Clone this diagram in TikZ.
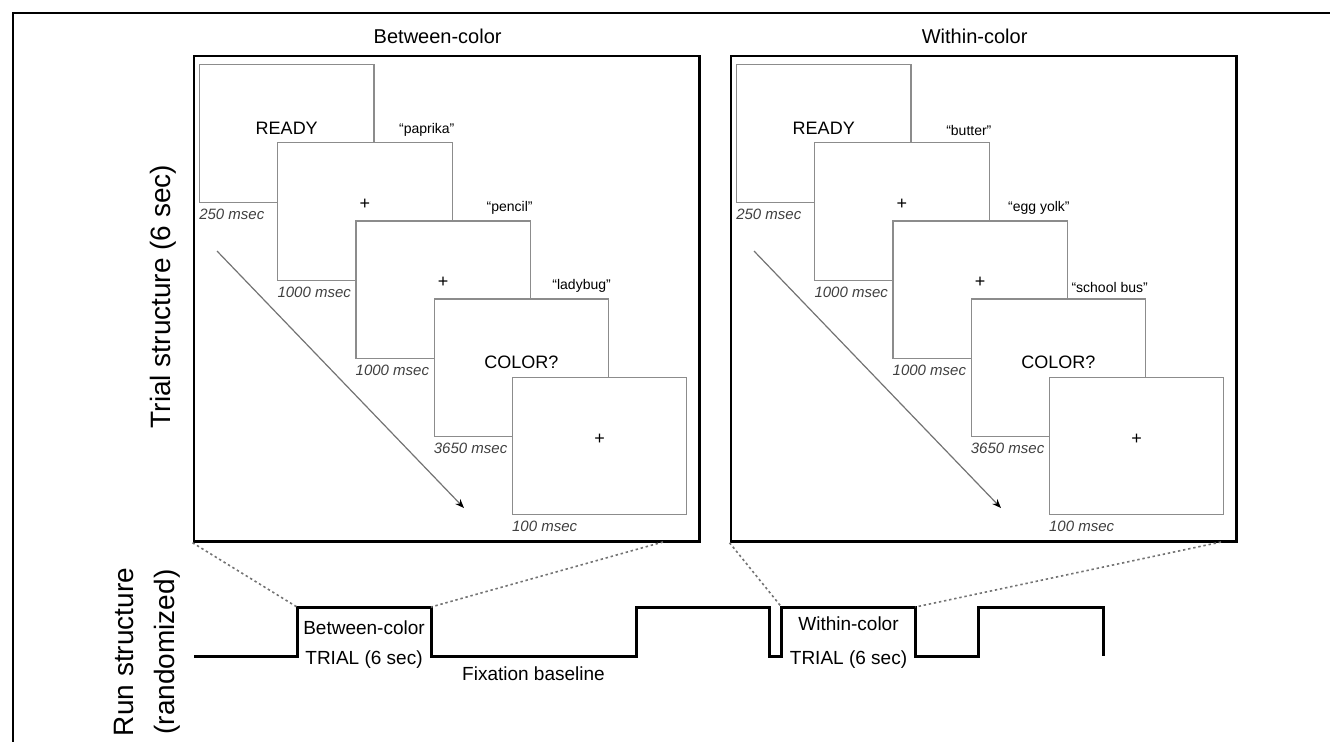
\documentclass[tikz,border=0pt]{standalone}
\usepackage{fontspec}
\setmainfont{Liberation Sans}
\usetikzlibrary{positioning, arrows.meta}

\begin{document}
\begin{tikzpicture}[
    x=0.5pt, y=-0.5pt,
    screen/.style={rectangle, draw=black!45, line width=0.6pt, fill=white,
                   minimum width=87.25pt, minimum height=68.75pt, inner sep=0pt},
    panel/.style={rectangle, draw=black, line width=1.2pt,
                  minimum width=252.9pt, minimum height=242.8pt, inner sep=0pt},
    ttl/.style={font=\fontsize{10}{12}\selectfont, inner sep=0pt, anchor=base},
    cue/.style={font=\fontsize{9}{11}\selectfont, inner sep=0pt},
    word/.style={font=\fontsize{7}{8}\selectfont, inner sep=0pt, anchor=south east},
    dur/.style={font=\fontsize{7.5}{9}\selectfont\itshape, text=black!75,
                inner sep=0pt, anchor=north west},
    axis/.style={font=\fontsize{14}{20.5}\selectfont, rotate=90, align=center, inner sep=0pt},
    steplbl/.style={font=\fontsize{9.5}{11}\selectfont, inner sep=0pt, anchor=base},
    time/.style={-{Stealth[length=4.5pt, width=3.5pt, black]}, black!55, line width=0.6pt},
    runline/.style={line width=1.5pt, line join=miter},
    zoomline/.style={black!55, line width=0.8pt, dash pattern=on 1.2pt off 1.4pt},
]
\useasboundingbox (0,0) rectangle (1330,741);
% outer frame, cut by the page on the right and at the bottom
\draw[line width=1pt] (12.7,760) |- (1350,13);

% the two trial panels
\foreach \p/\dx/\ttltext/\wa/\wb/\wc in {B/0/Between-color/paprika/pencil/ladybug,
                                       W/537/Within-color/butter/egg yolk/school bus}{
  \begin{scope}[shift={(\dx,0)}]
    \node[panel] (panel\p) at (446.65,298.75) {};
    \node[ttl] (title\p) at ([xshift=-4.5pt, yshift=5.85pt]panel\p.north) {\ttltext};

    \coordinate (tstart\p) at (217,251);
    \coordinate (tend\p) at (464,508);
    \draw[time] (tstart\p) -- (tend\p);

    \node[screen] (\p1) at (286.75,133.5) {};
    \node[screen] (\p2) at (364.95,211.6) {};
    \node[screen] (\p3) at (443.15,289.7) {};
    \node[screen] (\p4) at (521.35,367.8) {};
    \node[screen] (\p5) at (599.55,445.9) {};

    \node[cue] (ready\p) at ([yshift=2.75pt]\p1.center) {READY};
    \node[cue] (fixa\p)  at ([yshift=3.5pt]\p2.center) {+};
    \node[cue] (fixb\p)  at ([yshift=3.5pt]\p3.center) {+};
    \node[cue] (color\p) at ([yshift=2.75pt]\p4.center) {COLOR?};
    \node[cue] (fixc\p)  at ([yshift=3.5pt]\p5.center) {+};

    \node[word] (worda\p) at ([xshift=1pt, yshift=2.9pt]\p2.north east) {``\wa''};
    \node[word] (wordb\p) at ([xshift=1pt, yshift=2.9pt]\p3.north east) {``\wb''};
    \node[word] (wordc\p) at ([xshift=1pt, yshift=2.9pt]\p4.north east) {``\wc''};

    \node[dur] (dura\p) at ([yshift=-2.8pt]\p1.south west) {250 msec};
    \node[dur] (durb\p) at ([yshift=-2.8pt]\p2.south west) {1000 msec};
    \node[dur] (durc\p) at ([yshift=-2.8pt]\p3.south west) {1000 msec};
    \node[dur] (durd\p) at ([yshift=-2.8pt]\p4.south west) {3650 msec};
    \node[dur] (dure\p) at ([yshift=-2.8pt]\p5.south west) {100 msec};
  \end{scope}
}

% run structure
\coordinate (r0)  at (194,656);
\coordinate (upB) at (297,607);
\coordinate (dnB) at (431,607);
\coordinate (r1)  at (636,656);
\coordinate (r2)  at (769,607);
\coordinate (r3)  at (781.5,656);
\coordinate (upW) at (781.5,607);
\coordinate (dnW) at (915.5,607);
\coordinate (r4)  at (978.5,656);
\coordinate (r5)  at (1103,607);
\coordinate (r6)  at (1103,656);
\draw[runline] (r0) -| (upB) -- (dnB) |- (r1) |- (r2) |- (r3) |- (upW)
               -- (dnW) |- (r4) |- (r5) -- (r6);

\node[steplbl] (trialB) at (364,634) {Between-color};
\node[steplbl] (lenB)   at (364,664) {TRIAL (6 sec)};
\node[steplbl] (fix)    at (533.5,680) {Fixation baseline};
\node[steplbl] (trialW) at (848.5,630.5) {Within-color};
\node[steplbl] (lenW)   at (848.5,664) {TRIAL (6 sec)};

% zoom lines from the panels to their trials
\coordinate (zbR) at (663,542);
\coordinate (zwR) at (1221,542);
\draw[zoomline] (panelB.south west) -- (upB);
\draw[zoomline] (zbR) -- (dnB);
\draw[zoomline] (panelW.south west) -- (upW);
\draw[zoomline] (zwR) -- (dnW);

% axis labels
\node[axis, anchor=base]  (trialaxis) at (170,296.5) {Trial structure (6 sec)};
\node[axis, anchor=north] (runaxis)   at (113.6,652) {Run structure\\(randomized)};
\end{tikzpicture}
\end{document}
